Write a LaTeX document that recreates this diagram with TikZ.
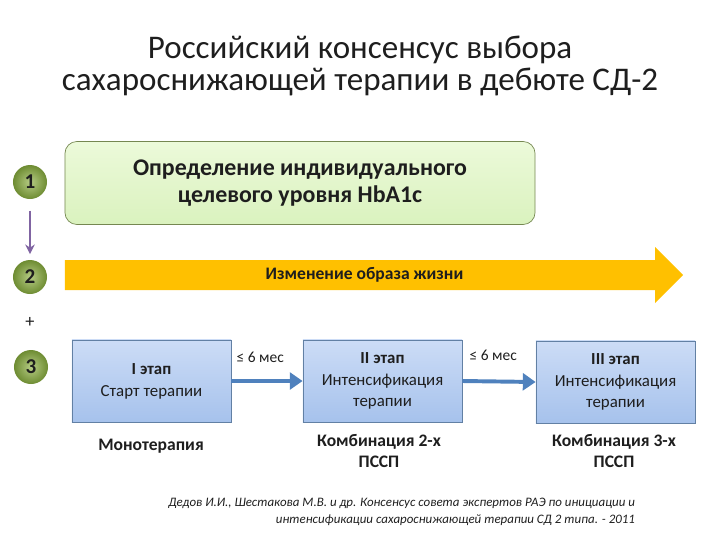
\documentclass[tikz,border=0pt]{standalone}
\usepackage{fontspec}
\setmainfont{Carlito}
\usetikzlibrary{arrows.meta,positioning,shapes.arrows}
\definecolor{CSDgreen}{RGB}{150,182,80}
\definecolor{CSDgreendark}{RGB}{110,140,50}
\definecolor{CSDpale}{RGB}{236,250,218}
\definecolor{CSDpaledark}{RGB}{218,242,190}
\definecolor{CSDblue}{RGB}{79,129,189}
\definecolor{CSDbluetop}{RGB}{204,220,246}
\definecolor{CSDbluebot}{RGB}{166,194,236}
\definecolor{CSDgold}{RGB}{255,192,0}
\definecolor{CSDpurple}{RGB}{128,100,162}
\definecolor{CSDtext}{RGB}{30,30,30}
\tikzset{
  csd step/.style={
    circle,
    minimum size=0.85cm,
    inner sep=0pt,
    inner color=CSDgreen!70!white,
    outer color=CSDgreendark,
    font=\bfseries\fontsize{15}{17}\selectfont
  },
  csd stage/.style={
    draw=CSDblue!60!gray,
    line width=0.5pt,
    top color=CSDbluetop,
    bottom color=CSDbluebot,
    minimum width=3.975cm,
    minimum height=2.05cm,
    align=center,
    inner sep=3pt,
    font=\fontsize{12}{15.5}\selectfont
  },
  csd under/.style={
    align=center,
    font=\bfseries\fontsize{12.5}{15.6}\selectfont
  },
  csd gap/.style={font=\fontsize{11}{13}\selectfont,inner sep=1pt},
  csd arrow/.style={-{Triangle[length=3.2mm,width=4.2mm]},line width=2.8pt,CSDblue}
}
\begin{document}
\begin{tikzpicture}[x=0.025cm,y=-0.025cm,text=CSDtext]
  \useasboundingbox (0,0) rectangle (720,540);

  \node[align=center,font=\fontsize{23.5}{22.8}\selectfont] (title) at (360,66)
    {Российский консенсус выбора\\сахароснижающей терапии в дебюте СД-2};

  \node[csd step] (one) at (30,182) {1};
  \node[csd step] (two) at (30,277) {2};
  \node[font=\fontsize{13}{15}\selectfont] (plus) at (30,322) {+};
  \node[csd step] (three) at (31,367) {3};
  \draw[-{Stealth[length=2.4mm,width=2.4mm]},line width=1.2pt,CSDpurple,
    shorten <=8pt,shorten >=4pt] (one.south) -- (two.north);

  \node[
    draw=CSDgreendark!60!gray,
    line width=0.5pt,
    rounded corners=0.3cm,
    top color=CSDpale,
    bottom color=CSDpaledark,
    minimum width=11.75cm,
    minimum height=2.075cm,
    align=center,
    font=\bfseries\fontsize{17}{19}\selectfont
  ] (target) at (300,183) {Определение индивидуального\\целевого уровня HbA1c};

  \node[
    single arrow,
    fill=CSDgold,
    minimum width=1.4cm,
    minimum height=15.45cm,
    single arrow head extend=0.32cm,
    single arrow head indent=0pt,
    inner sep=5pt,
    font=\bfseries\fontsize{12.5}{14}\selectfont
  ] (life) at (366.5,275) {\hspace*{-0.1cm}Изменение образа жизни};

  \node[csd stage] (first) at (151.5,381) {\textbf{I этап}\\Старт терапии};
  \node[csd stage] (second) at (382.5,381) {\textbf{II этап}\\Интенсификация\\терапии};
  \node[csd stage] (third) at (615.5,382) {\textbf{III этап}\\Интенсификация\\терапии};

  \draw[csd arrow] (first.east) -- (second.west);
  \draw[csd arrow] (second.east) -- (third.west);
  \node[csd gap,anchor=south west] (gap-a) at (235,364) {≤ 6 мес};
  \node[csd gap,anchor=south west] (gap-b) at (468,362) {≤ 6 мес};

  \node[csd under] (mono) at (151,446) {Монотерапия};
  \node[csd under] (combo-two) at (379,451) {Комбинация 2-х\\ПССП};
  \node[csd under] (combo-three) at (614,451) {Комбинация 3-х\\ПССП};

  \node[anchor=east,align=right,font=\itshape\fontsize{9.2}{12.2}\selectfont] (source) at (640,512)
    {Дедов И.И., Шестакова М.В. и др. Консенсус совета экспертов РАЭ по инициации и\\
     интенсификации сахароснижающей терапии СД 2 типа. - 2011};
\end{tikzpicture}
\end{document}
